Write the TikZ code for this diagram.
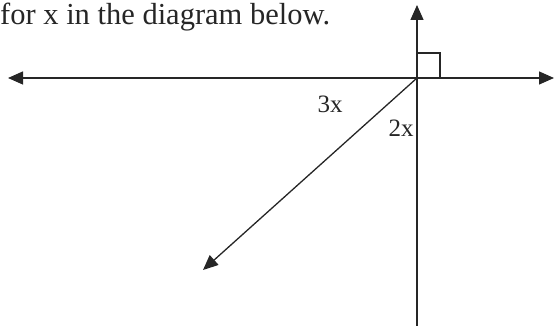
\documentclass[tikz,border=0pt]{standalone}
\usepackage{fontspec}
\setmainfont{Liberation Serif}
\usetikzlibrary{arrows.meta}
\begin{document}
\begin{tikzpicture}[x=1pt,y=1pt,
  ln/.style={line width=1.3pt,draw=black!85},
  tri/.style={-{Triangle[length=15pt,width=13pt]}},
  lbl/.style={font=\fontsize{25}{25}\selectfont,inner sep=0pt,text=black!85}]
\useasboundingbox (0,0) rectangle (554,326);
\coordinate (O) at (417,248);
\coordinate (L) at (8,248);
\coordinate (R) at (554,248);
\coordinate (T) at (417,321);
\coordinate (B) at (417,0);
\coordinate (D) at (203,56);
\draw[ln,tri] (O) -- (L);
\draw[ln,tri] (O) -- (R);
\draw[ln,tri] (O) -- (T);
\draw[ln] (O) -- (B);
\draw[ln,-{Triangle[length=15pt,width=13pt]}] (O) -- (D);
\draw[line width=1.1pt,draw=black!85] (417,273) -| (440,248);
\node[anchor=base west,inner sep=0pt,font=\fontsize{30.5}{30.5}\selectfont,text=black!85] (title) at (0,301) {for x in the diagram below.};
\node[lbl] (a3) at (330,222) {3x};
\node[lbl] (a2) at (401,198) {2x};
\end{tikzpicture}
\end{document}
